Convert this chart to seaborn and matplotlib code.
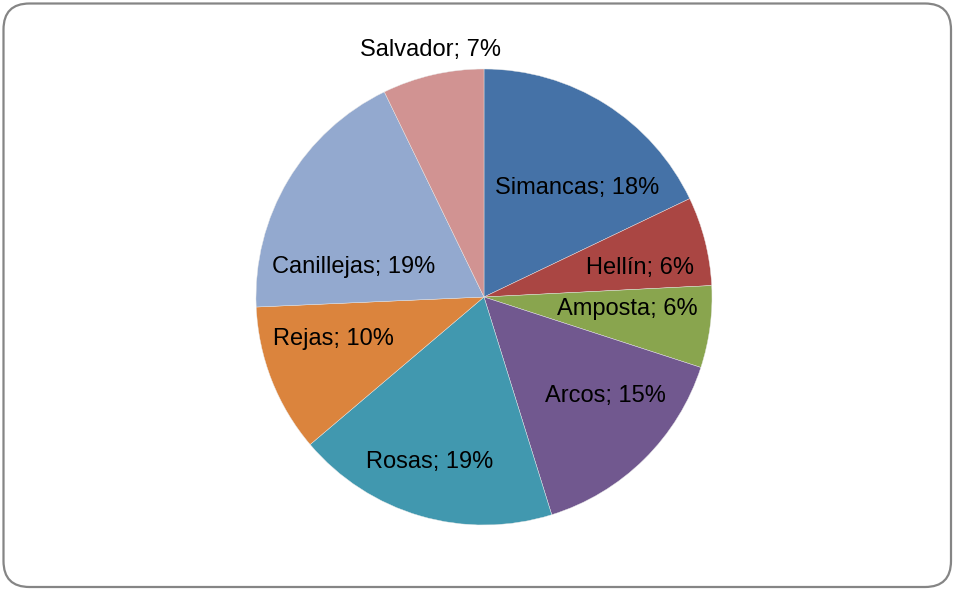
import numpy as np
import matplotlib
matplotlib.use("Agg")
import matplotlib.pyplot as plt
import seaborn as sns
from matplotlib.patches import FancyBboxPatch
from matplotlib.transforms import IdentityTransform

# ---- data ----
categories = ["Simancas", "Hellín", "Amposta", "Arcos", "Rosas", "Rejas", "Canillejas", "Salvador"]
values = [17.9, 6.3, 5.8, 15.2, 18.6, 10.5, 18.5, 7.2]
pct_labels = ["18%", "6%", "6%", "15%", "19%", "10%", "19%", "7%"]

# ---- style ----
colors = ["#4572A7", "#AA4643", "#89A54E", "#71588F", "#4198AF", "#DB843D", "#93A9CF", "#D19392"]
label_radius = [0.628, 0.696, 0.629, 0.686, 0.763, 0.687, 0.585, 1.108]
label_shift_deg = [-8.3, -3.7, 2.8, 6.1, -2.0, -5.7, 18.0, -0.7]

sns.set_theme(style="white")
plt.rcParams["font.family"] = ["Liberation Sans", "DejaVu Sans"]

W, H, DPI = 954, 590, 100
fig = plt.figure(figsize=(W / DPI, H / DPI), dpi=DPI)
fig.patch.set_facecolor("white")

cx, cy, R = 484, 297, 228
ax = fig.add_axes([(cx - R) / W, (H - cy - R) / H, 2 * R / W, 2 * R / H])

palette = sns.color_palette(colors)
wedges, _ = ax.pie(values, colors=palette, startangle=90, counterclock=False,
                   radius=1.0,
                   wedgeprops=dict(edgecolor="#e8e8e8", linewidth=0.3))
ax.set_xlim(-1, 1)
ax.set_ylim(-1, 1)
ax.set_aspect("equal")
ax.axis("off")

for w, name, pct, r, sh in zip(wedges, categories, pct_labels, label_radius, label_shift_deg):
    mid = np.deg2rad((w.theta1 + w.theta2) / 2 + sh)
    ax.text(r * np.cos(mid), r * np.sin(mid), f"{name}; {pct}",
            ha="center", va="center", fontsize=17, color="black", clip_on=False)

# rounded border around the chart
border = FancyBboxPatch((3.5, 3.0), 947.5, 583.5,
                        boxstyle="round,pad=0,rounding_size=26",
                        transform=IdentityTransform(), facecolor="none",
                        edgecolor="#858585", linewidth=1.6)
fig.patches.append(border)

fig.savefig("out.png", dpi=DPI, facecolor="white")
